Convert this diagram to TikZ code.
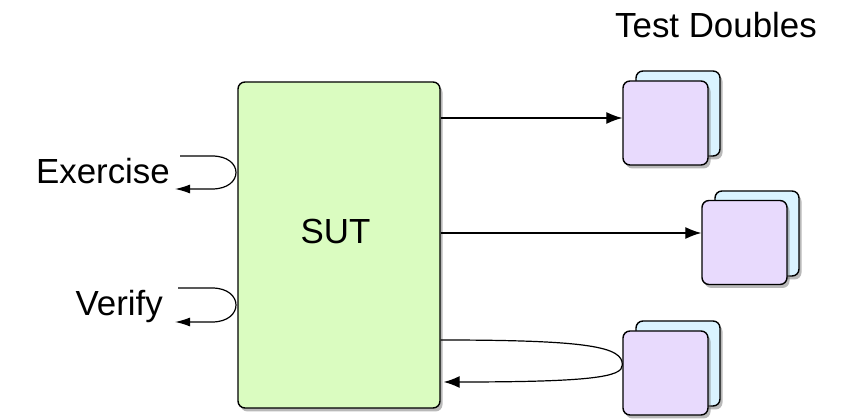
\documentclass[tikz,border=0pt]{standalone}
\usepackage{fontspec}
\setmainfont{Liberation Sans}
\usepackage{tikz}
\usetikzlibrary{arrows.meta,shadows}
\definecolor{sutgreen}{RGB}{218,252,192}
\definecolor{dbllilac}{RGB}{232,218,253}
\definecolor{dblcyan}{RGB}{218,243,255}

\begin{document}
\begin{tikzpicture}[>={Latex[length=16bp,width=12bp]},line join=bevel,
  boxshadow/.style={drop shadow={shadow xshift=2.5bp,shadow yshift=-3.5bp,fill=black!55,opacity=.5}},
  sutbox/.style={draw,line width=1.4bp,rounded corners=7bp,fill=sutgreen,inner sep=0,
    minimum width=202bp,minimum height=326bp,boxshadow},
  dblback/.style={draw,line width=1.4bp,rounded corners=7bp,fill=dblcyan,inner sep=0,
    minimum width=84bp,minimum height=85bp,boxshadow},
  dblfront/.style={draw,line width=1.4bp,rounded corners=7bp,fill=dbllilac,inner sep=0,
    minimum width=85bp,minimum height=84bp,boxshadow},
  lbl/.style={inner sep=0,font=\fontsize{35}{42}\selectfont},
  conn/.style={line width=1.2bp},
  loopconn/.style={line width=1.2bp,-{Latex[length=15bp,width=9bp]}}]
%%
\useasboundingbox (0bp,0bp) rectangle (849bp,419bp);
\node (sut) at (339.0bp,174.0bp) [sutbox] {};
  \node (sutlabel) at (335.5bp,175.0bp) [lbl,anchor=base] {SUT};
  \node (td1back) at (678.0bp,305.5bp) [dblback] {};
  \node (td1) at (665.5bp,296.0bp) [dblfront] {};
  \node (td2back) at (757.0bp,185.5bp) [dblback] {};
  \node (td2) at (744.5bp,176.5bp) [dblfront] {};
  \node (td3back) at (678.0bp,55.5bp) [dblback] {};
  \node (td3) at (665.5bp,46.0bp) [dblfront] {};
  \node (doubles) at (615.0bp,381.0bp) [lbl,anchor=base west] {Test Doubles};
  \node (exercise) at (170.0bp,235.0bp) [lbl,anchor=base east] {Exercise};
  \node (verify) at (163.0bp,103.0bp) [lbl,anchor=base east] {Verify};
%
\coordinate (td1arr) at ([yshift=5bp]td1.west);
  \coordinate (td2arr) at ([yshift=9.5bp]td2.west);
  \coordinate (td3turn) at ([yshift=8bp]td3.west);
  \coordinate (td3out) at ([yshift=-95bp]sut.east);
  \coordinate (td3in) at ([shift={(3bp,-137bp)}]sut.east);
  \coordinate (exs) at ([shift={(10bp,28bp)}]exercise.base east);
  \coordinate (exe) at ([shift={(5bp,-5bp)}]exercise.base east);
  \coordinate (vers) at ([shift={(15bp,28bp)}]verify.base east);
  \coordinate (vere) at ([shift={(12bp,-6bp)}]verify.base east);
%
\draw [conn,->] (sut.east |- td1arr) -- (td1arr);
  \draw [conn,->] (sut.east |- td2arr) -- (td2arr);
  \draw [conn,->] (td3out) ..controls (590.0bp,79.0bp) and (623.0bp,72.0bp) .. (td3turn)
    ..controls (623.0bp,42.0bp) and (590.0bp,37.0bp) .. (td3in);
  \draw [loopconn] (exs) -- (212.0bp,263.0bp) to[out=0,in=0,distance=32bp] (212.0bp,230.0bp) -- (exe);
  \draw [loopconn] (vers) -- (212.0bp,131.0bp) to[out=0,in=0,distance=32bp] (212.0bp,97.0bp) -- (vere);
%
\end{tikzpicture}
\end{document}
